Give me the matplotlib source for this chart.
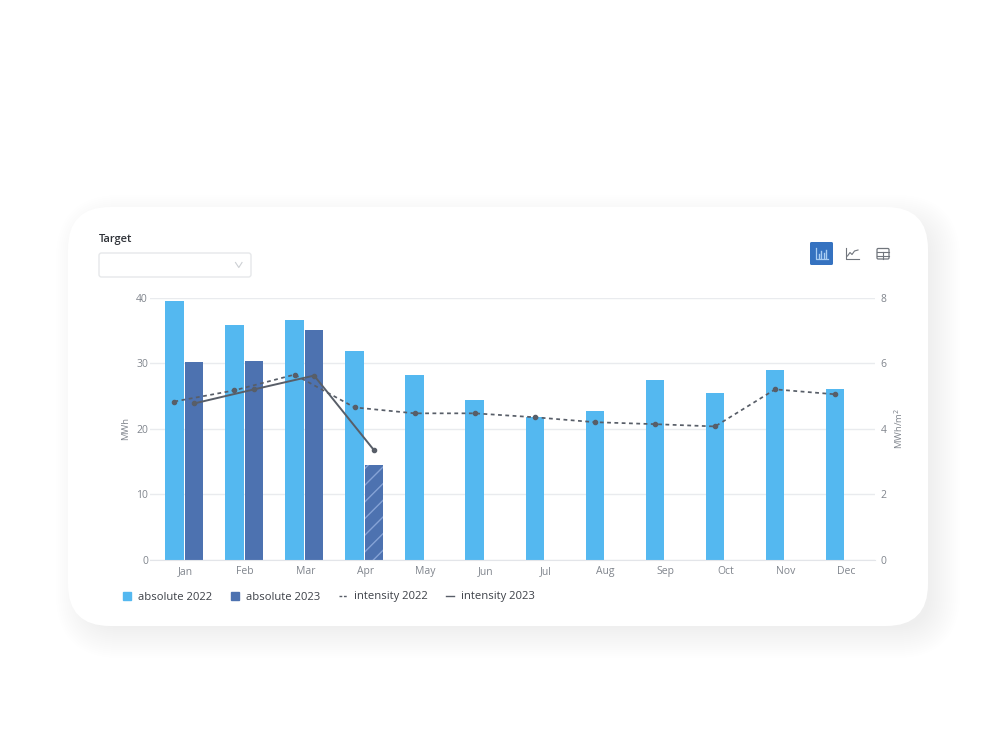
import matplotlib
matplotlib.use("Agg")
import matplotlib.pyplot as plt
from matplotlib.patches import FancyBboxPatch, Rectangle
from matplotlib.lines import Line2D
from matplotlib.transforms import ScaledTranslation
import numpy as np

plt.rcParams['font.family'] = ['Open Sans', 'DejaVu Sans']

months = ['Jan', 'Feb', 'Mar', 'Apr', 'May', 'Jun', 'Jul', 'Aug', 'Sep', 'Oct', 'Nov', 'Dec']
absolute_2022 = [39.5, 35.8, 36.5, 31.9, 28.2, 24.4, 21.8, 22.7, 27.4, 25.4, 29.0, 26.1]
absolute_2023 = [30.2, 30.4, 35.0, 14.5]
intensity_2022 = [4.83, 5.17, 5.65, 4.65, 4.47, 4.47, 4.35, 4.20, 4.14, 4.07, 5.20, 5.05]
intensity_2023 = [4.77, 5.20, 5.62, 3.34]
left_ticks = [0, 10, 20, 30, 40]
right_ticks = [0, 2, 4, 6, 8]

W, H = 994, 745
LIGHT, DARK, LINE = '#54b8f0', '#4d72b0', '#585e68'
GRID, TICK = '#e9ebee', '#80858d'

fig = plt.figure(figsize=(W / 100, H / 100), dpi=100, facecolor='white')

# background layer in pixel coordinates
bg = fig.add_axes([0, 0, 1, 1], zorder=0)
bg.set_xlim(0, W)
bg.set_ylim(H, 0)
bg.axis('off')


def rbox(x0, y0, x1, y1, r, **kw):
    p = FancyBboxPatch((x0 + r, y0 + r), x1 - x0 - 2 * r, y1 - y0 - 2 * r,
                       boxstyle=f'round,pad={r},rounding_size={r}', **kw)
    bg.add_patch(p)
    return p


# soft card shadow
for grow in np.arange(22, -10, -2):
    rbox(68 + 10 - grow, 207 + 10 - grow, 928 + 10 + grow, 626 + 10 + grow, 42 + grow,
         facecolor='#000000', edgecolor='none', alpha=0.0055)
rbox(68, 207, 928, 626, 42, facecolor='white', edgecolor='none')

# Target selector
bg.text(99, 239.5, 'Target', fontsize=8, fontweight='semibold', color='#2f3238', va='center', ha='left')
rbox(99, 253, 251, 277, 2.5, facecolor='white', edgecolor='#e6e8ea', linewidth=1.0)
bg.plot([235.5, 238.8, 242], [262.5, 267.5, 262.5], color='#cdd0d4', lw=0.8)

# toolbar icons
rbox(810, 242, 833, 265, 1.5, facecolor='#3572c0', edgecolor='none')
ic = '#a9cdf2'
bg.plot([816, 816, 828], [248, 259, 259], color=ic, lw=0.9)
for bx, top in zip([818.5, 821, 823.5, 826], [254, 251, 253, 249.5]):
    bg.plot([bx, bx], [257.5, top], color=ic, lw=1.0)
ic2 = '#70757c'
bg.plot([846, 846, 858.5], [248, 259, 259], color=ic2, lw=0.8)
bg.plot([847.5, 850, 852, 854.5, 858], [256, 252.5, 254.5, 251, 250], color=ic2, lw=0.8)
bg.add_patch(FancyBboxPatch((877, 248.5), 12, 10.5, boxstyle='round,pad=0,rounding_size=1.2',
                            fill=False, edgecolor=ic2, lw=0.9))
bg.plot([877, 889], [252, 252], color=ic2, lw=0.8)
bg.plot([877, 889], [255.5, 255.5], color=ic2, lw=0.8)
bg.plot([883, 883], [252, 259], color=ic2, lw=0.8)

# chart
AX_L, AX_R, AX_T, AX_B = 150, 875, 297.5, 560
ax = fig.add_axes([AX_L / W, 1 - AX_B / H, (AX_R - AX_L) / W, (AX_B - AX_T) / H], zorder=2)
ax.patch.set_alpha(0)
x = np.arange(len(months))
bw = 0.31
off = 0.163
ax.set_xlim(-0.569, 11.5)
ax.set_ylim(0, 40)
ax.set_axisbelow(True)
ax.grid(axis='y', color=GRID, lw=1)
ax.bar(x - off, absolute_2022, bw, color=LIGHT, linewidth=0, zorder=2)
bars23 = ax.bar(x[:len(absolute_2023)] + off, absolute_2023, bw, color=DARK, linewidth=0, zorder=2)
plt.rcParams['hatch.linewidth'] = 0.8
bars23[3].set_hatch('//')
bars23[3].set_edgecolor('#86a3d6')
bars23[3].set_linewidth(0)

for s in ax.spines.values():
    s.set_visible(False)
ax.spines['bottom'].set_visible(True)
ax.spines['bottom'].set_color('#e3e5e9')
ax.set_xticks(x, months)
ax.set_yticks(left_ticks)
ax.tick_params(axis='both', length=0, labelsize=7.5, labelcolor=TICK)
ax.tick_params(axis='x', pad=4.2)
ax.tick_params(axis='y', pad=1.5)
# category labels sit slightly right of the group centres
shift = ScaledTranslation(1.0 / 100, 0, fig.dpi_scale_trans)
for lab in ax.get_xticklabels():
    lab.set_transform(lab.get_transform() + shift)
ax.set_ylabel('MWh', fontsize=6.8, color=TICK, labelpad=4)

ax2 = ax.twinx()
ax2.patch.set_alpha(0)
ax2.set_ylim(0, 8)
ax2.set_yticks(right_ticks)
ax2.tick_params(axis='y', length=0, labelsize=7.5, labelcolor=TICK, pad=4)
for s in ax2.spines.values():
    s.set_visible(False)
ax2.set_ylabel('MWh/m$^2$', fontsize=6.8, color=TICK, labelpad=4)
ax2.plot(x - off, intensity_2022, color=LINE, lw=1.25, ls=(0, (2.2, 2.0)), marker='o', ms=3.0, zorder=4)
ax2.plot(x[:len(intensity_2023)] + off, intensity_2023, color=LINE, lw=1.4, marker='o', ms=3.0, zorder=4)

handles = [
    Line2D([], [], ls='none', marker='s', ms=6.4, color=LIGHT),
    Line2D([], [], ls='none', marker='s', ms=6.4, color=DARK),
    Line2D([], [], color=LINE, lw=1, ls=(0, (2, 1.2))),
    Line2D([], [], color=LINE, lw=1),
]
labels = ['absolute 2022', 'absolute 2023', 'intensity 2022', 'intensity 2023']
leg = fig.legend(handles, labels, loc='center left', bbox_to_anchor=(123 / W, 1 - 597 / H), ncol=4,
                 frameon=False, fontsize=8.1, labelcolor='#3d4148', handlelength=0.7,
                 handletextpad=0.6, columnspacing=1.7, borderpad=0, borderaxespad=0)

fig.savefig('out.png', dpi=100)
